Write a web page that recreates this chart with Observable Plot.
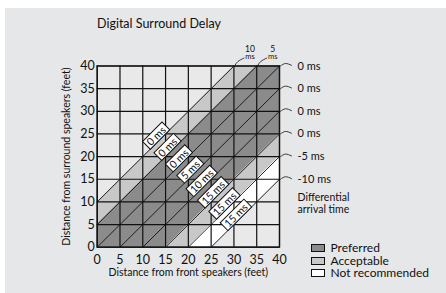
<!DOCTYPE html>
<html><head><meta charset="utf-8">
<script src="https://cdn.jsdelivr.net/npm/d3@7"></script>
<script src="https://cdn.jsdelivr.net/npm/@observablehq/plot@0.6"></script>
<style>
html,body{margin:0;padding:0;background:#fff;}
#wrap{position:absolute;left:5px;top:8px;width:441px;height:285px;background:#e6e7e8;font-family:Lato,"Open Sans",sans-serif;color:#111;overflow:hidden}
#title{position:absolute;left:92px;top:8px;font-size:12.5px;line-height:16px;white-space:nowrap}
#chart{position:absolute;left:0;top:30px}
#legend{position:absolute;left:306px;top:234px;font-size:12px;line-height:12.5px}
.row{display:flex;align-items:center;height:12.5px;line-height:12.5px;white-space:nowrap}
.sw{box-sizing:border-box;width:14px;height:8px;border:1px solid #111;margin-right:5.5px}
</style></head><body>
<div id="wrap"><div id="title">Digital Surround Delay</div><div id="chart"></div><div id="legend"></div></div>
<script>
// grid ticks (feet)
const ticks = [0, 5, 10, 15, 20, 25, 30, 35, 40];
// diagonals: surround distance minus front distance (feet)
const offsets = [10, 5, 0, -5, -10, -15, -20, -25];
// delay setting written on each diagonal
const delays = ["0 ms", "0 ms", "0 ms", "5 ms", "10 ms", "15 ms", "15 ms", "15 ms"];
// differential arrival time at the end of each diagonal
const arrival = ["10", "5", "0 ms", "0 ms", "0 ms", "0 ms", "-5 ms", "-10 ms"];
// shaded bands between diagonals
const bandLo = [5, -15, -20, -25];
const bandHi = [10, 5, -15, -20];
const bandCat = ["Acceptable", "Preferred", "Acceptable", "Not recommended"];
// legend
const legendCats = ["Preferred", "Acceptable", "Not recommended"];
const legendColors = ["#8b8b8b", "#c8c8c8", "#ffffff"];
const cellFill = "#e9e9ea";

const clamp = v => Math.max(0, Math.min(40, v));
const bandPts = bandLo.flatMap((lo, i) => {
  const hi = bandHi[i];
  const xs = Array.from(new Set([0, 40, -lo, 40 - lo, -hi, 40 - hi].filter(x => x >= 0 && x <= 40))).sort((a, b) => a - b);
  return xs.map(x => ({band: i, cat: bandCat[i], x, y1: clamp(x + lo), y2: clamp(x + hi)}));
});

// small connector arcs next to the arrival-time labels
const rightArcs = offsets.flatMap((d, i) => d > 0 ? [] : [
  {i, x: 40.22, y: 40 + d}, {i, x: 41.32, y: 40 + d + 0.55}, {i, x: 42.63, y: 40 + d + 0.15}]);
const topArcs = offsets.flatMap((d, i) => d <= 0 ? [] : [
  {i, x: 40 - d + 0.22, y: 40.11}, {i, x: 40 - d + 0.88, y: 41.0}, {i, x: 40 - d + 2.2, y: 41.75}]);

const chart = Plot.plot({
  width: 441, height: 255,
  marginLeft: 91.7, marginRight: 167, marginTop: 27.5, marginBottom: 46.3,
  style: {background: "transparent", fontFamily: "Lato, 'Open Sans', sans-serif", fontSize: "12.5px", color: "#111"},
  x: {domain: [0, 40], ticks: ticks, tickSize: 0, tickPadding: 8, label: null},
  y: {domain: [0, 40], ticks: ticks, tickSize: 0, tickPadding: 2.5, label: null},
  color: {type: "ordinal", domain: legendCats, range: legendColors},
  marks: [
    Plot.frame({fill: cellFill}),
    Plot.areaY(bandPts, {x: "x", y1: "y1", y2: "y2", z: "band", fill: "cat"}),
    Plot.ruleX(ticks, {stroke: "#111", strokeWidth: 1.2}),
    Plot.ruleY(ticks, {stroke: "#111", strokeWidth: 1.2}),
    Plot.link(offsets, {x1: d => Math.max(0, -d), y1: d => Math.max(0, d), x2: d => Math.min(40, 40 - d), y2: d => Math.min(40, 40 + d), stroke: "#111", strokeWidth: 0.9}),
    Plot.frame({stroke: "#111", strokeWidth: 1.3}),
    Plot.text(offsets, {x: d => (37.5 - d) / 2, y: d => (37.5 + d) / 2, text: (d, i) => delays[i], rotate: -45, dx: -3.4, dy: -3.4, fontSize: 10.5, fill: "#111"}),
    Plot.line(rightArcs, {x: "x", y: "y", z: "i", curve: "natural", stroke: "#111", strokeWidth: 0.8}),
    Plot.line(topArcs, {x: "x", y: "y", z: "i", curve: "natural", stroke: "#111", strokeWidth: 0.8}),
    Plot.text(offsets, {filter: d => d <= 0, x: 40, y: d => 40 + d, text: (d, i) => arrival[i], textAnchor: "start", dx: 18, fontSize: 11, fill: "#111"}),
    Plot.text(offsets, {filter: d => d > 0, x: d => 40 - d, y: 40, text: (d, i) => arrival[i], dx: 16, dy: -17, fontSize: 8.5, fill: "#111"}),
    Plot.text(offsets, {filter: d => d > 0, x: d => 40 - d, y: 40, text: () => "ms", dx: 16, dy: -9, fontSize: 7.5, fill: "#111"}),
    Plot.text(["Differential\narrival time"], {x: 40, y: 15, textAnchor: "start", dx: 18, dy: 24, fontSize: 10.5, lineHeight: 1.1, fill: "#111"}),
    Plot.text(["Distance from front speakers (feet)"], {frameAnchor: "bottom", textAnchor: "middle", lineAnchor: "middle", dy: 25.5, fontSize: 10.5, fill: "#111"}),
    Plot.text(["Distance from surround speakers (feet)"], {frameAnchor: "left", textAnchor: "middle", lineAnchor: "middle", rotate: -90, dx: -30.7, fontSize: 10.5, fill: "#111"})
  ]
});
document.getElementById("chart").append(chart);

// white boxes behind the rotated delay labels
chart.querySelectorAll("text").forEach(t => {
  const tr = t.getAttribute("transform") || "";
  if (!/rotate\(-45\)/.test(tr)) return;
  const b = t.getBBox();
  const r = document.createElementNS("http://www.w3.org/2000/svg", "rect");
  r.setAttribute("x", b.x - 2.5);
  r.setAttribute("y", b.y + 0.5);
  r.setAttribute("width", b.width + 5);
  r.setAttribute("height", b.height - 1);
  r.setAttribute("fill", "#fff");
  r.setAttribute("stroke", "#111");
  r.setAttribute("stroke-width", "1");
  r.setAttribute("transform", tr);
  t.parentNode.insertBefore(r, t);
});

const legend = document.getElementById("legend");
legendCats.forEach((c, i) => {
  const row = document.createElement("div");
  row.className = "row";
  const sw = document.createElement("div");
  sw.className = "sw";
  sw.style.background = legendColors[i];
  row.append(sw, document.createTextNode(c));
  legend.append(row);
});
</script>
</body></html>
